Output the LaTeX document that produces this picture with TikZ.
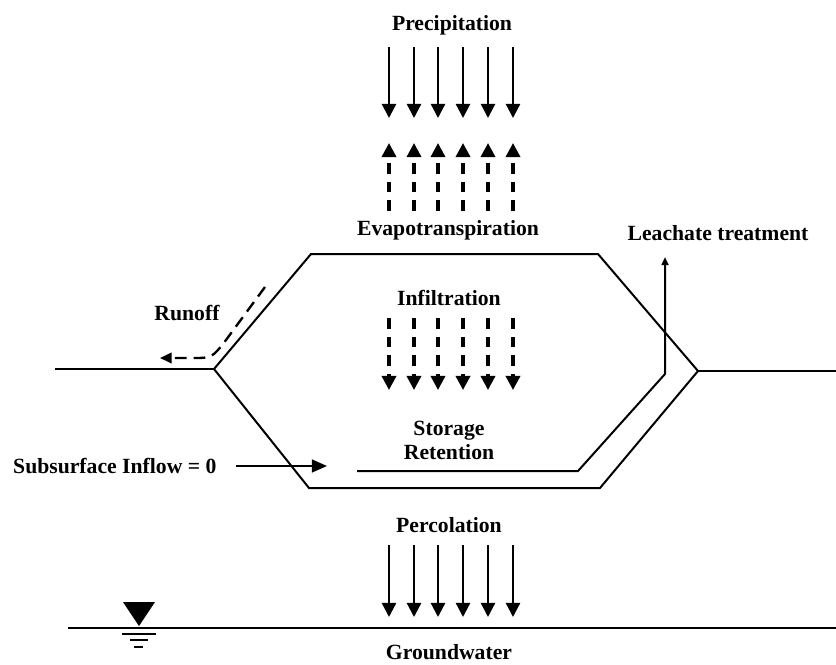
\documentclass[tikz,border=0pt]{standalone}
\usepackage{fontspec}
\setmainfont{Liberation Serif}
\usetikzlibrary{arrows.meta}
\tikzstyle{lbl} = [font=\fontsize{18.5}{20.5}\selectfont\bfseries, inner sep=0pt, align=center]
\tikzstyle{edge} = [line width=1.7pt, line join=miter]
\tikzstyle{flow} = [line width=1.9pt, -{Triangle[width=12pt,length=12pt]}]
\tikzstyle{dflow} = [flow, line width=2.8pt, dash pattern=on 9pt off 7pt]
\tikzstyle{thin flow} = [line width=1.7pt, -{Triangle[width=6pt,length=7pt]}]

\begin{document}
\begin{tikzpicture}[x=0.03cm, y=-0.03cm]
\useasboundingbox (0,0) rectangle (836,664);

% labels
\node[lbl] (precip) at (452,25) {Precipitation};
\node[lbl] (evapo) at (448,230) {Evapotranspiration};
\node[lbl] (leach) at (718,233) {Leachate treatment};
\node[lbl] (infil) at (449,298) {Infiltration};
\node[lbl] (runoff) at (187,313) {Runoff};
\node[lbl] (store) at (449,440) {Storage\\Retention};
\node[lbl, anchor=west] (sub) at (13,466) {Subsurface Inflow = 0};
\node[lbl] (perc) at (449,525) {Percolation};
\node[lbl] (gw) at (449,652) {Groundwater};

% landfill cell and ground
\draw[edge] (214,369) -- (311,254) -- (598,254) -- (698,371)
    -- (600,488) -- (309,488) -- cycle;
\draw[edge] (55,369) -- (214,369);
\draw[edge] (698,371) -- (836,371);
\draw[edge] (68,628) -- (836,628);

% water table mark
\fill (123,602) -- (155,602) -- (139,626) -- cycle;
\draw[line width=1.2pt] (122,634) -- (156,634);
\draw[line width=1.2pt] (130,640) -- (148,640);
\draw[line width=1.2pt] (134,647) -- (143,647);

% vertical flows
\foreach \x in {389,414,438,463,488,513} {
    \draw[flow] (\x,47) -- (\x,118);
    \draw[dflow] (\x,211) -- (\x,143);
    \draw[dflow] (\x,318) -- (\x,390);
    \draw[flow] (\x,545) -- (\x,617);
}

% runoff
\draw[line width=2pt, dash pattern=on 10pt off 6pt, -{Triangle[width=9pt,length=10pt]}]
    (265,287) -- (226,340) .. controls (212,358) .. (192,358) -- (160,358);

% leachate collection
\coordinate (leachtip) at (665,257);
\draw[thin flow] (357,471) -- (578,471) -- (665,374) -- (leachtip);

% subsurface inflow
\coordinate (subtail) at (236,466);
\coordinate (subtip) at (327,466);
\draw[line width=1.7pt, -{Triangle[width=11pt,length=13pt]}] (subtail) -- (subtip);
\end{tikzpicture}
\end{document}
